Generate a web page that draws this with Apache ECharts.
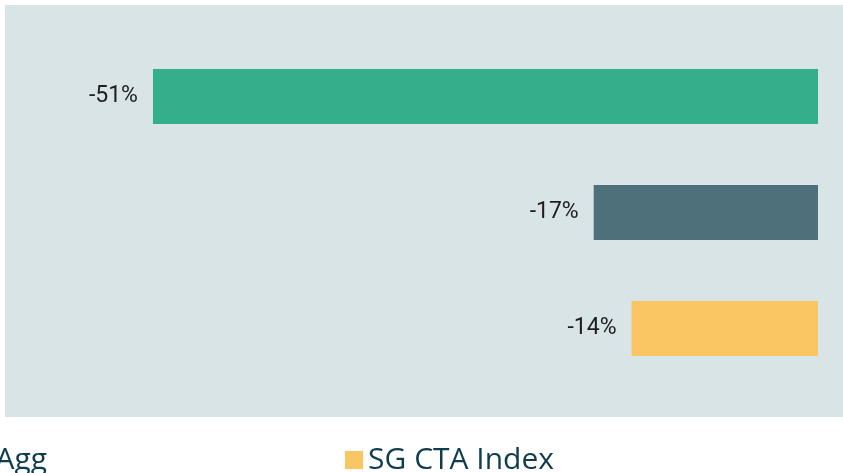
<!DOCTYPE html>
<html>
<head>
<meta charset="utf-8">
<script src="https://cdn.jsdelivr.net/npm/echarts@6/dist/echarts.min.js"></script>
<style>
  html, body { margin: 0; padding: 0; background: #fff; }
  #chart { width: 843px; height: 473px; }
</style>
</head>
<body>
<div id="chart"></div>
<script>
// drawdowns, top to bottom
const seriesNames = ['S&P 500', 'Bloomberg US Agg', 'SG CTA Index'];
const drawdowns = [-51.0, -17.2, -14.3];
const barColors = ['#33b08b', '#4e707b', '#fac663'];

const chart = echarts.init(document.getElementById('chart'));

// one series per bar, placed on its own row so the legend gets a colour each
const series = seriesNames.map(function (name, i) {
  return {
    name: name,
    type: 'bar',
    barWidth: 55,
    barGap: '-100%',
    itemStyle: { color: barColors[i] },
    data: drawdowns.map(function (v, j) { return j === i ? v : '-'; }),
    label: {
      show: true,
      position: 'left',
      distance: 15,
      color: '#1e1e1e',
      fontFamily: 'Roboto',
      fontSize: 23,
      formatter: function (p) { return Math.round(p.value) + '%'; }
    }
  };
});

chart.setOption({
  backgroundColor: '#ffffff',
  animation: false,
  graphic: [{
    type: 'rect',
    left: 5,
    top: 5,
    shape: { width: 840, height: 412 },
    style: { fill: '#d9e4e6' },
    z: -10
  }],
  // the picture is cropped: only the end of the Agg entry shows at the left edge
  legend: {
    data: seriesNames,
    right: 284,
    width: 1500,
    top: 440,
    icon: 'rect',
    itemWidth: 18,
    itemHeight: 18,
    itemGap: 298,
    textStyle: { color: '#0f3d4c', fontFamily: 'Open Sans', fontSize: 30 }
  },
  grid: { left: 35.6, right: 25, top: 38.5, height: 348 },
  xAxis: {
    type: 'value',
    min: -60,
    max: 0,
    show: false
  },
  yAxis: {
    type: 'category',
    data: seriesNames,
    inverse: true,
    show: false
  },
  series: series
});
</script>
</body>
</html>
